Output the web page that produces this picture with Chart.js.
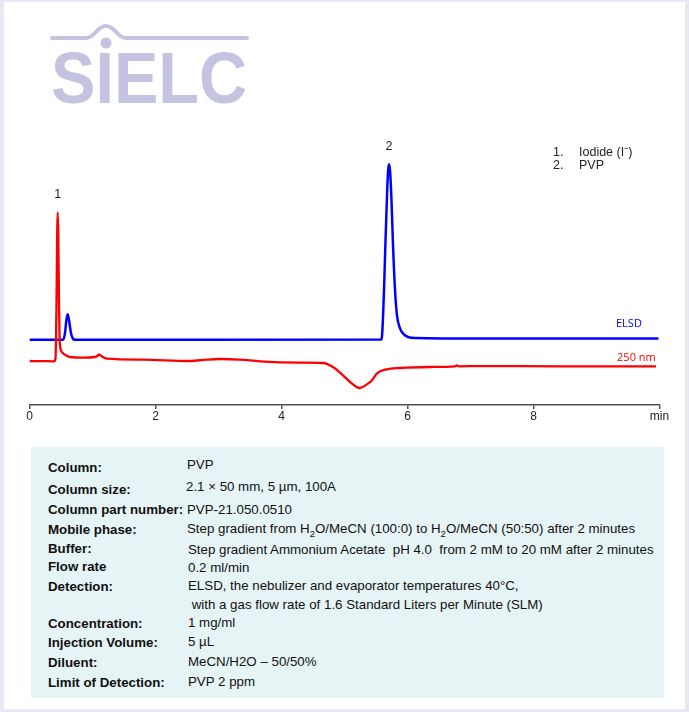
<!DOCTYPE html>
<html>
<head>
<meta charset="utf-8">
<script src="https://cdn.jsdelivr.net/npm/chart.js@4.4.1/dist/chart.umd.min.js"></script>
<style>
  html,body{margin:0;padding:0;}
  body{width:689px;height:712px;background:#e8e8f4;position:relative;overflow:hidden;font-family:"Liberation Sans",Arial,sans-serif;}
  #page{position:absolute;left:4px;top:2px;width:681px;height:707px;background:#fff;}
  #chart{position:absolute;left:0;top:0;}
  #logo{position:absolute;left:0;top:0;}
  .cmp{position:absolute;font-size:12.5px;color:#222;line-height:13px;white-space:pre;}
  #panel{position:absolute;left:31px;top:447px;width:633px;height:251px;background:#e6f4f5;}
  .row{position:absolute;font-size:13.3px;color:#111;line-height:15px;white-space:pre;}
  .lab{left:48px;font-weight:bold;}
  .val{left:187px;}
  sub{font-size:9.5px;line-height:0;}
</style>
</head>
<body>
<div id="page"></div>
<svg id="logo" width="300" height="120">
  <path d="M52 38 L86 38 C95 38 97 26 106 26 C115 26 117 38 126 38 L247 38" fill="none" stroke="#c4c4e0" stroke-width="4" stroke-linecap="round"/>
  <circle cx="106" cy="43" r="5.5" fill="#c4c4e0"/>
  <text x="51" y="103" font-family="Liberation Sans, Arial, sans-serif" font-weight="bold" font-size="72" fill="#c4c4e0" textLength="196" lengthAdjust="spacingAndGlyphs">SIELC</text>
</svg>
<canvas id="chart" width="689" height="440"></canvas>
<div class="cmp" style="left:553px;top:146px;">1.</div>
<div class="cmp" style="left:579px;top:146px;">Iodide (I⁻)</div>
<div class="cmp" style="left:553px;top:159px;">2.</div>
<div class="cmp" style="left:579px;top:159px;">PVP</div>

<div id="panel"></div>
<div class="row lab" style="top:460px;">Column:</div><div class="row val" style="top:457px;">PVP</div>
<div class="row lab" style="top:482px;">Column size:</div><div class="row val" style="top:479px;left:186px;">2.1 × 50 mm, 5 µm, 100A</div>
<div class="row lab" style="top:502px;">Column part number:</div><div class="row val" style="top:502px;">PVP-21.050.0510</div>
<div class="row lab" style="top:522px;">Mobile phase:</div><div class="row val" style="top:521px;">Step gradient from H<sub>2</sub>O/MeCN (100:0) to H<sub>2</sub>O/MeCN (50:50) after 2 minutes</div>
<div class="row lab" style="top:541px;">Buffer:</div><div class="row val" style="top:542px;left:188px;">Step gradient Ammonium Acetate  pH 4.0  from 2 mM to 20 mM after 2 minutes</div>
<div class="row lab" style="top:559px;">Flow rate</div><div class="row val" style="top:560px;left:188px;">0.2 ml/min</div>
<div class="row lab" style="top:579px;">Detection:</div><div class="row val" style="top:578px;left:188px;">ELSD, the nebulizer and evaporator temperatures 40°C,</div>
<div class="row val" style="top:597px;left:188px;"> with a gas flow rate of 1.6 Standard Liters per Minute (SLM)</div>
<div class="row lab" style="top:616px;">Concentration:</div><div class="row val" style="top:615px;left:188px;">1 mg/ml</div>
<div class="row lab" style="top:635px;">Injection Volume:</div><div class="row val" style="top:634px;left:188px;">5 µL</div>
<div class="row lab" style="top:655px;">Diluent:</div><div class="row val" style="top:654px;left:188px;">MeCN/H2O – 50/50%</div>
<div class="row lab" style="top:675px;">Limit of Detection:</div><div class="row val" style="top:674px;left:188px;">PVP 2 ppm</div>

<script>
// ---- data (time in min, detector response in arbitrary units) ----
const elsdTime = [0, 0.532, 0.563, 0.587, 0.606, 0.627, 0.659, 0.690, 0.722, 2.706, 5.579, 5.595, 5.627, 5.651, 5.675, 5.690, 5.706, 5.722, 5.746, 5.770, 5.802, 5.833, 5.881, 5.944, 6.008, 6.119, 7.151, 9.984];
const elsdSignal = [65.2, 65.2, 71.7, 85.7, 90.7, 84.7, 71.7, 66.2, 65.2, 65.2, 65.4, 68.7, 114.7, 164.7, 209.7, 232.7, 240.7, 234.7, 204.7, 159.7, 114.7, 89.7, 76.7, 70.7, 68.0, 66.9, 66.4, 66.4];

const uvTime = [0, 0.167, 0.389, 0.413, 0.429, 0.440, 0.448, 0.457, 0.468, 0.479, 0.500, 0.532, 0.579, 0.643, 0.849, 1.040, 1.079, 1.108, 1.143, 1.225, 1.802, 2.548, 2.813, 3.024, 3.341, 3.659, 4.294, 4.659, 4.817, 4.976, 5.119, 5.230, 5.373, 5.437, 5.511, 5.670, 5.881, 6.357, 6.754, 6.786, 6.817, 7.151, 8.421, 9.944];
const uvSignal = [44.0, 43.9, 43.7, 46.7, 104.7, 174.7, 192.7, 169.7, 104.7, 64.7, 54.7, 51.7, 49.7, 48.0, 47.4, 48.0, 49.2, 50.7, 48.7, 46.4, 45.4, 44.0, 45.4, 46.0, 45.4, 43.7, 42.4, 42.0, 38.0, 29.7, 21.4, 17.0, 21.4, 24.7, 31.4, 35.7, 37.0, 38.0, 38.7, 39.7, 38.7, 38.9, 38.7, 38.7];

const xTicks = [0, 2, 4, 6, 8, 10];
const xUnitLabel = 'min';
const peakNumbers = ['1', '2'];
const peakTimes = [0.448, 5.706];
const peakHeights = [192.7, 240.7];
const traceNames = ['ELSD', '250 nm'];

const toPts = (t, v) => t.map((x, i) => ({x: x, y: v[i]}));

const annot = {
  id: 'annot',
  afterDatasetsDraw(chart) {
    const {ctx, scales: {x, y}} = chart;
    ctx.save();
    ctx.font = '12.5px "Liberation Sans", Arial, sans-serif';
    ctx.fillStyle = '#222';
    ctx.textAlign = 'center';
    ctx.textBaseline = 'middle';
    peakNumbers.forEach((n, i) => {
      ctx.fillText(n, x.getPixelForValue(peakTimes[i]), y.getPixelForValue(peakHeights[i]) - 18);
    });
    ctx.font = '11px "Open Sans", sans-serif';
    ctx.textAlign = 'right';
    ctx.fillStyle = '#0000ff';
    ctx.fillText(traceNames[0], x.getPixelForValue(9.72), y.getPixelForValue(elsdSignal[elsdSignal.length - 1]) - 15);
    ctx.fillStyle = '#ff0000';
    ctx.fillText(traceNames[1], x.getPixelForValue(9.94), y.getPixelForValue(uvSignal[uvSignal.length - 1]) - 8);
    ctx.restore();
  }
};

new Chart(document.getElementById('chart'), {
  type: 'line',
  data: {
    datasets: [
      {label: traceNames[1], data: toPts(uvTime, uvSignal), borderColor: '#ff0000', borderWidth: 2.3, pointRadius: 0, cubicInterpolationMode: 'monotone', fill: false},
      {label: traceNames[0], data: toPts(elsdTime, elsdSignal), borderColor: '#0000ff', borderWidth: 2.5, pointRadius: 0, cubicInterpolationMode: 'monotone', fill: false}
    ]
  },
  options: {
    responsive: false,
    animation: false,
    devicePixelRatio: 1,
    layout: {padding: {left: 29.5, right: 29.5, top: 105, bottom: 16.6}},
    plugins: {legend: {display: false}, tooltip: {enabled: false}},
    scales: {
      x: {
        type: 'linear', min: 0, max: 10,
        afterBuildTicks: (s) => { s.ticks = xTicks.map(v => ({value: v})); },
        ticks: {
          autoSkip: false, maxRotation: 0, padding: 0,
          color: '#222', font: {family: '"Liberation Sans", Arial, sans-serif', size: 12},
          callback: (v) => v === 10 ? xUnitLabel : String(v)
        },
        grid: {drawOnChartArea: false, drawTicks: true, tickLength: 4, color: '#505050', lineWidth: 1.5},
        border: {display: true, color: '#505050', width: 1.5}
      },
      y: {display: false, min: 0, max: 300}
    }
  },
  plugins: [annot]
});
</script>
</body>
</html>
